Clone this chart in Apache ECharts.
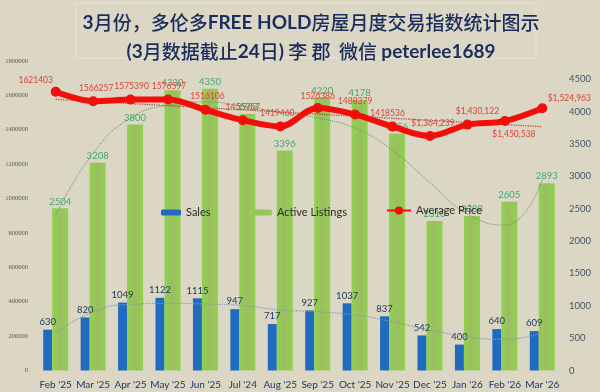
<!DOCTYPE html>
<html>
<head>
<meta charset="utf-8">
<script src="https://cdn.jsdelivr.net/npm/echarts@6/dist/echarts.min.js"></script>
<style>
html,body{margin:0;padding:0;background:#dcd7c4;}
#chart{width:600px;height:392px;}
</style>
</head>
<body>
<div id="chart"></div>
<script>
// ---- data ----
const categories = ["Feb '25","Mar '25","Apr '25","May '25","Jun '25","Jul '24","Aug '25","Sep '25","Oct '25","Nov '25","Dec '25","Jan '26","Feb '26","Mar '26"];
const sales = [630, 820, 1049, 1122, 1115, 947, 717, 927, 1037, 837, 542, 400, 640, 609];
const activeListings = [2504, 3208, 3800, 4330, 4350, 3963, 3396, 4220, 4178, 3656, 2310, 2388, 2605, 2893];
const avgPrice = [1621403, 1566257, 1575390, 1576597, 1516106, 1455757, 1419460, 1526386, 1488379, 1418536, 1364239, 1430122, 1450538, 1524963];
const avgPriceLabels = ['1621403','1566257','1575390','1576597','1516106','1455757','1419460','1526386','1488379','1418536','$1,364,239','$1,430,122','$1,450,538','$1,524,963'];
// trendlines
const salesTrend = [579, 907, 1021, 1037, 1026, 1003, 934, 907, 856, 753, 625, 522, 481, 583];
const listingsTrend = [2400, 3356, 3900, 4097, 4148, 4080, 3990, 3900, 3740, 3400, 2900, 2420, 2245, 2950];
const priceTrendEnds = [["Feb '25", 1577000], ["Mar '26", 1418000]];
const leftTicks = {min: 0, max: 1800000, interval: 200000};
const rightTicks = {min: 0, max: 4780, interval: 500};

// ---- chart ----
const FONT = "Lato, 'Noto Sans CJK SC', sans-serif";
const chart = echarts.init(document.getElementById('chart'), null, {renderer: 'canvas'});

const priceLabelCfg = [
  {position: 'top', offset: [-20, 2]},
  {position: 'top', offset: [3, 0]},
  {position: 'top', offset: [1, 0]},
  {position: 'top', offset: [1, 0]},
  {position: 'top', offset: [2, 0]},
  {position: 'top', offset: [0, 0]},
  {position: 'top', offset: [-3, 0]},
  {position: 'top', offset: [0, 1]},
  {position: 'top', offset: [0, 0]},
  {position: 'top', offset: [-5, 0]},
  {position: 'top', offset: [3, 1]},
  {position: 'top', offset: [10, 0]},
  {position: 'bottom', offset: [9, 0]},
  {position: 'top', offset: [27, 3]}
];
const priceData = avgPrice.map((v, i) => ({
  value: v,
  label: Object.assign({formatter: avgPriceLabels[i]}, priceLabelCfg[i])
}));

const greenGrad = new echarts.graphic.LinearGradient(0, 0, 1, 0, [
  {offset: 0, color: '#8fd24e'},
  {offset: 0.5, color: '#9cbd62'},
  {offset: 1, color: '#8fd24e'}
]);

const option = {
  backgroundColor: '#dcd7c4',
  animation: false,
  textStyle: {fontFamily: FONT},
  title: [{
    left: 306, top: 3, textAlign: 'center',
    text: '{b|3}{n|月份，多伦多}{b|FREE HOLD}{n|房屋月度交易指数统计图示}\n{b|(3}{n|月数据截止}{b|24}{n|日}{b|)}{n| 李 郡  微信 }{b|peterlee1689}',
    textStyle: {
      rich: {
        b: {fontFamily: FONT, fontWeight: 'bold', fontSize: 19, color: '#1b2d5c', lineHeight: 29},
        n: {fontFamily: "'Noto Sans CJK SC', sans-serif", fontWeight: 500, fontSize: 19, color: '#1b2d5c', lineHeight: 29}
      }
    }
  }],
  graphic: [{
    type: 'rect', shape: {x: 76, y: 3, width: 460, height: 55},
    style: {fill: 'none', stroke: '#e8e4d4', lineWidth: 1}, silent: true
  }],
  legend: [
    {left: 156, top: 202, data: ['Sales'], itemWidth: 20, itemHeight: 6, itemGap: 0,
     textStyle: {fontFamily: FONT, fontSize: 11, color: '#2b2b2b'}},
    {left: 245, top: 202, data: ['Active Listings'], itemWidth: 22, itemHeight: 6, itemGap: 0,
     textStyle: {fontFamily: FONT, fontSize: 11, color: '#2b2b2b'}},
    {left: 381, top: 200, data: ['Average Price'], itemWidth: 24, itemHeight: 10, itemGap: 0,
     textStyle: {fontFamily: FONT, fontSize: 11, color: '#2b2b2b'}}
  ],
  grid: {left: 37, right: 39, top: 61, bottom: 21.5, containLabel: false},
  xAxis: {
    type: 'category', data: categories,
    axisLine: {show: false}, axisTick: {show: false},
    axisLabel: {interval: 0, fontFamily: FONT, fontSize: 10, color: '#1f3864', margin: 9}
  },
  yAxis: [{
    type: 'value', min: leftTicks.min, max: leftTicks.max, interval: leftTicks.interval,
    axisLine: {show: false}, axisTick: {show: false}, splitLine: {show: false},
    axisLabel: {fontFamily: "'Liberation Serif', serif", fontSize: 6.5, color: '#555', margin: 9,
      formatter: v => String(v)}
  }, {
    type: 'value', min: rightTicks.min, max: rightTicks.max, interval: rightTicks.interval,
    axisLine: {show: false}, axisTick: {show: false}, splitLine: {show: false},
    axisLabel: {fontFamily: FONT, fontSize: 9.5, color: '#44546a', margin: 8, showMaxLabel: false,
      formatter: v => String(v)}
  }],
  series: [{
    name: 'Sales', type: 'bar', yAxisIndex: 1, data: sales,
    barWidth: 9, barGap: '0%', z: 2,
    itemStyle: {color: '#1f6bc0'},
    label: {show: true, position: 'top', distance: 3, fontFamily: FONT, fontSize: 9.5, color: '#1f3864'}
  }, {
    name: 'Active Listings', type: 'bar', yAxisIndex: 1, data: activeListings,
    barWidth: 16, barGap: '0%', z: 2,
    itemStyle: {color: greenGrad},
    label: {show: true, position: 'top', distance: 2, fontFamily: FONT, fontSize: 9.5, color: '#3fa874'}
  }, {
    name: 'Sales trend', type: 'line', yAxisIndex: 1, data: salesTrend, smooth: 0.5,
    symbol: 'none', z: 3, silent: true,
    lineStyle: {color: '#8a98a6', width: 1.2, type: 'dotted'}
  }, {
    name: 'Listings trend', type: 'line', yAxisIndex: 1, data: listingsTrend, smooth: 0.5,
    symbol: 'none', z: 3, silent: true,
    lineStyle: {color: '#5a9660', width: 1, type: 'dotted'}
  }, {
    name: 'Price trend', type: 'line', yAxisIndex: 0, data: priceTrendEnds,
    symbol: 'none', z: 3, silent: true,
    lineStyle: {color: '#a83a30', width: 1.2, type: 'dotted'}
  }, {
    name: 'Average Price', type: 'line', yAxisIndex: 0, data: priceData, smooth: 0.35,
    symbol: 'circle', symbolSize: 10, z: 5,
    itemStyle: {color: '#f00f0a'},
    lineStyle: {color: '#f00f0a', width: 6},
    label: {show: true, distance: 4, fontFamily: FONT, fontSize: 8.5, color: '#d9423a'}
  }]
};
chart.setOption(option);
</script>
</body>
</html>
